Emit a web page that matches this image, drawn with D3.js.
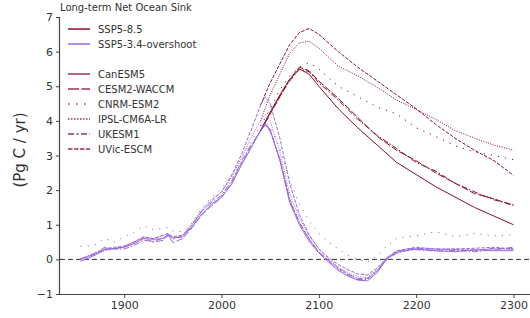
<!DOCTYPE html>
<html>
<head>
<meta charset="utf-8">
<script src="https://cdn.jsdelivr.net/npm/d3@7"></script>
<style>
  body { margin: 0; background: white; }
  svg { display: block; font-family: "DejaVu Sans", sans-serif; }
</style>
</head>
<body>
<svg id="chart"></svg>
<script>
// years and values
const hist_years = [1855, 1860, 1870, 1880, 1890, 1900, 1910, 1920, 1930, 1940, 1945, 1950, 1960, 1970, 1980, 1990, 2000, 2010, 2020, 2030, 2040]
const overshoot_years = [2045, 2050, 2060, 2070, 2080, 2090, 2100, 2110, 2120, 2130, 2140, 2150, 2160, 2170, 2180, 2190, 2200, 2220, 2240, 2260, 2280, 2300]
const ssp585_years = [2040, 2050, 2060, 2070, 2080, 2090, 2100, 2120, 2140, 2160, 2180, 2200, 2220, 2240, 2260, 2280, 2300]

const models = ["CanESM5", "CESM2-WACCM", "CNRM-ESM2", "IPSL-CM6A-LR", "UKESM1", "UVic-ESCM"]
const scenarios = ["SSP5-8.5", "SSP5-3.4-overshoot"]

const hist_values = {
    "CanESM5":      [-0.05, 0.0, 0.12, 0.28, 0.32, 0.35, 0.45, 0.6, 0.58, 0.6, 0.72, 0.62, 0.65, 0.95, 1.32, 1.6, 1.8, 2.15, 2.7, 3.2, 3.72],
    "CESM2-WACCM":  [0.0, 0.05, 0.15, 0.3, 0.3, 0.38, 0.5, 0.62, 0.5, 0.55, 0.7, 0.48, 0.6, 0.92, 1.3, 1.55, 1.78, 2.2, 2.75, 3.25, 3.7],
    "CNRM-ESM2":    [0.38, 0.38, 0.42, 0.6, 0.5, 0.65, 0.78, 0.97, 0.85, 0.9, 0.92, 0.82, 0.8, 1.05, 1.5, 1.8, 2.05, 2.4, 2.9, 3.4, 3.85],
    "IPSL-CM6A-LR": [0.02, 0.05, 0.15, 0.25, 0.3, 0.35, 0.48, 0.65, 0.6, 0.68, 0.75, 0.6, 0.7, 1.05, 1.45, 1.75, 1.95, 2.35, 2.9, 3.5, 4.0],
    "UKESM1":       [0.0, 0.08, 0.18, 0.35, 0.3, 0.3, 0.4, 0.55, 0.52, 0.62, 0.68, 0.58, 0.68, 1.0, 1.4, 1.65, 1.85, 2.25, 2.8, 3.3, 3.7],
    "UVic-ESCM":    [0.0, 0.05, 0.18, 0.3, 0.35, 0.38, 0.5, 0.65, 0.6, 0.7, 0.75, 0.65, 0.7, 1.0, 1.4, 1.7, 1.95, 2.4, 3.0, 3.7, 4.45],
}

const overshoot_values = {
    "CanESM5":      [3.92, 3.75, 2.85, 1.65, 1.0, 0.52, 0.18, -0.08, -0.32, -0.48, -0.6, -0.62, -0.38, 0.02, 0.2, 0.26, 0.3, 0.25, 0.22, 0.28, 0.25, 0.25],
    "CESM2-WACCM":  [3.88, 3.7, 2.9, 1.75, 1.05, 0.58, 0.22, -0.02, -0.25, -0.42, -0.55, -0.55, -0.32, 0.05, 0.22, 0.3, 0.32, 0.3, 0.28, 0.25, 0.32, 0.3],
    "CNRM-ESM2":    [3.95, 3.85, 3.2, 2.3, 1.6, 1.1, 0.75, 0.5, 0.3, 0.12, 0.0, -0.08, 0.1, 0.4, 0.6, 0.65, 0.68, 0.8, 0.65, 0.75, 0.68, 0.71],
    "IPSL-CM6A-LR": [4.2, 4.0, 3.1, 1.9, 1.2, 0.7, 0.3, 0.02, -0.22, -0.38, -0.5, -0.52, -0.3, 0.02, 0.2, 0.28, 0.3, 0.28, 0.3, 0.27, 0.3, 0.28],
    "UKESM1":       [3.9, 3.72, 2.88, 1.7, 1.08, 0.6, 0.2, -0.05, -0.28, -0.45, -0.58, -0.58, -0.35, 0.0, 0.18, 0.25, 0.28, 0.24, 0.26, 0.22, 0.28, 0.35],
    "UVic-ESCM":    [4.7, 4.5, 3.5, 2.2, 1.3, 0.7, 0.3, 0.05, -0.15, -0.3, -0.42, -0.45, -0.25, 0.05, 0.25, 0.3, 0.35, 0.3, 0.3, 0.32, 0.35, 0.3],
}

const ssp585_values = {
    "CanESM5":      [3.72, 4.25, 4.75, 5.2, 5.5, 5.35, 5.0, 4.35, 3.8, 3.3, 2.8, 2.45, 2.1, 1.8, 1.5, 1.25, 1.0],
    "CESM2-WACCM":  [3.7, 4.2, 4.7, 5.2, 5.55, 5.45, 5.15, 4.65, 4.1, 3.55, 3.15, 2.85, 2.5, 2.2, 1.9, 1.75, 1.55],
    "CNRM-ESM2":    [3.85, 4.35, 4.9, 5.3, 5.55, 5.68, 5.5, 5.0, 4.7, 4.4, 4.2, 3.8, 3.55, 3.28, 3.1, 3.0, 2.88],
    "IPSL-CM6A-LR": [4.0, 4.75, 5.35, 5.95, 6.25, 6.3, 6.1, 5.58, 5.3, 4.97, 4.6, 4.33, 4.05, 3.72, 3.5, 3.3, 3.15],
    "UKESM1":       [3.7, 4.22, 4.72, 5.15, 5.5, 5.42, 5.1, 4.6, 4.05, 3.58, 3.2, 2.8, 2.55, 2.2, 1.95, 1.72, 1.58],
    "UVic-ESCM":    [4.45, 5.1, 5.65, 6.2, 6.55, 6.67, 6.5, 6.0, 5.55, 5.15, 4.75, 4.35, 3.9, 3.5, 3.15, 2.85, 2.43],
}

const x_ticks = [1900, 2000, 2100, 2200, 2300]
const y_ticks = [-1, 0, 1, 2, 3, 4, 5, 6, 7]

function draw_chart() {
    const width = 530
    const height = 318
    const red = "#8b0d26"
    const purple = "#9a6ad6"
    const axis_color = "#444"

    // line style per model
    const dashes = {
        "CanESM5": null,
        "CESM2-WACCM": "7,2",
        "CNRM-ESM2": "1.2,6",
        "IPSL-CM6A-LR": "1,1.4",
        "UKESM1": "6,2,1.5,2",
        "UVic-ESCM": "3.5,1.5",
    }
    const legend_dashes = {
        "CanESM5": null,
        "CESM2-WACCM": "11,2.5",
        "CNRM-ESM2": "1.5,6.5",
        "IPSL-CM6A-LR": "1.5,1.5",
        "UKESM1": "6,2.5,2,2.5",
        "UVic-ESCM": "4.5,1.5",
    }

    const svg = d3.select("#chart")
        .attr("width", width)
        .attr("height", height)

    const x = d3.scaleLinear().domain([1834, 2317]).range([60, 530])
    const y = d3.scaleLinear().domain([-1, 7]).range([294, 17])

    const line = d3.line()
        .x(d => x(d[0]))
        .y(d => y(d[1]))

    // zero line
    svg.append("line")
        .attr("x1", x.range()[0]).attr("x2", x.range()[1])
        .attr("y1", y(0)).attr("y2", y(0))
        .attr("stroke", "#333")
        .attr("stroke-width", 1)
        .attr("stroke-dasharray", "5,3")

    const g = svg.append("g")

    // SSP5-8.5 lines
    models.forEach(function(m) {
        const pts = ssp585_years.map((yr, i) => [yr, ssp585_values[m][i]])
        g.append("path")
            .attr("d", line(pts))
            .attr("fill", "none")
            .attr("stroke", red)
            .attr("stroke-width", 1)
            .attr("stroke-dasharray", dashes[m])
    })

    // historical + overshoot lines
    models.forEach(function(m) {
        const pts = hist_years.map((yr, i) => [yr, hist_values[m][i]])
            .concat(overshoot_years.map((yr, i) => [yr, overshoot_values[m][i]]))
        g.append("path")
            .attr("d", line(pts))
            .attr("fill", "none")
            .attr("stroke", purple)
            .attr("stroke-width", 1)
            .attr("stroke-dasharray", dashes[m])
    })

    // axes
    const y_axis = svg.append("g")
        .attr("transform", "translate(60,0)")
        .call(d3.axisLeft(y).tickValues(y_ticks).tickSize(4).tickPadding(3)
            .tickFormat(d => d < 0 ? "\u2212" + Math.abs(d) : d))
    const x_axis = svg.append("g")
        .attr("transform", "translate(0,294)")
        .call(d3.axisBottom(x).tickValues(x_ticks).tickSize(4).tickPadding(3)
            .tickFormat(d3.format("d")))

    ;[x_axis, y_axis].forEach(function(ax) {
        ax.select(".domain").attr("stroke", axis_color).attr("stroke-width", 1.2)
        ax.selectAll(".tick line").attr("stroke", axis_color).attr("stroke-width", 1)
        ax.selectAll(".tick text")
            .attr("fill", "#333")
            .attr("font-size", "11px")
            .attr("font-family", "DejaVu Sans")
    })
    x_axis.select(".domain").attr("d", "M60,0.5H530")
    y_axis.select(".domain").attr("d", "M-0.5,17V294")

    // y label
    svg.append("text")
        .attr("transform", "translate(25,150) rotate(-90)")
        .attr("text-anchor", "middle")
        .attr("font-size", "15px")
        .attr("fill", "#333")
        .text("(Pg C / yr)")

    // title
    svg.append("text")
        .attr("x", 60)
        .attr("y", 11)
        .attr("font-size", "10px")
        .attr("fill", "#333")
        .text("Long-term Net Ocean Sink")

    // legend
    const legend_rows = [
        {label: scenarios[0], color: red, dash: null, y: 29, opacity: 1},
        {label: scenarios[1], color: purple, dash: null, y: 44, opacity: 1},
    ]
    models.forEach(function(m, i) {
        legend_rows.push({label: m, color: red, dash: legend_dashes[m], y: 74 + i * 15, opacity: 0.85})
    })

    const legend = svg.append("g")
    legend_rows.forEach(function(row) {
        legend.append("line")
            .attr("x1", 68).attr("x2", 90)
            .attr("y1", row.y).attr("y2", row.y)
            .attr("stroke", row.color)
            .attr("stroke-opacity", row.opacity)
            .attr("stroke-width", 1.5)
            .attr("stroke-dasharray", row.dash)
        legend.append("text")
            .attr("x", 98)
            .attr("y", row.y)
            .attr("dy", "0.35em")
            .attr("font-size", "10px")
            .attr("fill", "#333")
            .text(row.label)
    })
}

window.onload = function() {
    draw_chart()
}
</script>
</body>
</html>
